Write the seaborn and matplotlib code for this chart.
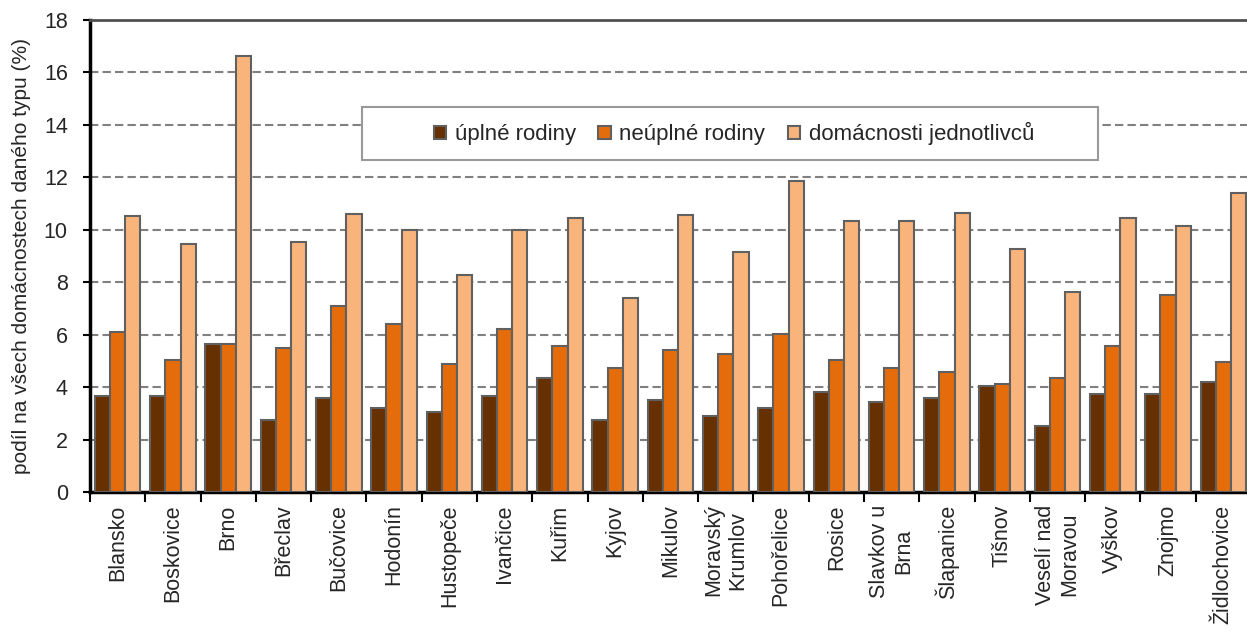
import matplotlib
matplotlib.use('Agg')
import matplotlib.pyplot as plt
import seaborn as sns
import pandas as pd
from matplotlib.patches import Rectangle

# podíl domácností podle typu v jednotlivých SO ORP
okresy = ['Blansko', 'Boskovice', 'Brno', 'Břeclav', 'Bučovice', 'Hodonín',
          'Hustopeče', 'Ivančice', 'Kuřim', 'Kyjov', 'Mikulov',
          'Moravský\nKrumlov', 'Pohořelice', 'Rosice', 'Slavkov u\nBrna',
          'Šlapanice', 'Tišnov', 'Veselí nad\nMoravou', 'Vyškov', 'Znojmo',
          'Židlochovice']
uplne = [3.66, 3.66, 5.65, 2.73, 3.59, 3.19, 3.05, 3.66, 4.35, 2.73, 3.51,
         2.89, 3.21, 3.81, 3.42, 3.59, 4.04, 2.52, 3.73, 3.73, 4.18]
neuplne = [6.12, 5.05, 5.65, 5.5, 7.09, 6.41, 4.88, 6.2, 5.57, 4.73, 5.42,
           5.26, 6.03, 5.05, 4.73, 4.57, 4.1, 4.36, 5.57, 7.5, 4.97]
jednotlivci = [10.51, 9.45, 16.62, 9.53, 10.6, 10.0, 8.26, 10.0, 10.45, 7.41,
               10.55, 9.14, 11.85, 10.32, 10.32, 10.63, 9.26, 7.62, 10.45,
               10.15, 11.39]
serie = ['úplné rodiny', 'neúplné rodiny', 'domácnosti jednotlivců']
barvy = ['#663000', '#E46C0A', '#F9B47C']

df = pd.DataFrame({'okres': okresy, serie[0]: uplne, serie[1]: neuplne,
                   serie[2]: jednotlivci})
df = df.melt(id_vars='okres', var_name='typ', value_name='podil')

sns.set_style('white')
plt.rcParams['font.family'] = ['Liberation Sans', 'DejaVu Sans']

fig = plt.figure(figsize=(12.47, 6.33), dpi=100)
ax = fig.add_axes([90 / 1247, 141 / 633, 1161 / 1247, 472 / 633])

sns.barplot(data=df, x='okres', y='podil', hue='typ', hue_order=serie,
            palette=barvy, saturation=1, width=0.825, edgecolor='#606060',
            linewidth=1.5, ax=ax, legend=False, zorder=3)

ax.set_xlim(-0.5, len(okresy) - 0.5)
ax.set_ylim(0, 18)
ax.set_yticks(range(0, 19, 2))
ax.yaxis.grid(True, linestyle=(0, (4, 2)), color='#808080', linewidth=1.5)
ax.xaxis.grid(False)
ax.set_axisbelow(True)

ax.set_xticks(range(len(okresy)))
ax.set_xticklabels(okresy, rotation=90, ma='center', fontsize=15.5)
ax.set_xticks([i - 0.5 for i in range(len(okresy) + 1)], minor=True)
ax.tick_params(axis='x', which='major', length=0, pad=9)
ax.tick_params(axis='x', which='minor', length=7, width=1.5, color='black',
               direction='out', bottom=True)
ax.tick_params(axis='y', length=5, width=1.5, color='black', direction='out',
               left=True, labelsize=15.5, pad=11)

ax.set_xlabel('')
ax.set_ylabel('podíl na všech domácnostech daného typu (%)', fontsize=15,
              labelpad=9)

for s in ['left', 'bottom']:
    ax.spines[s].set_color('black')
    ax.spines[s].set_linewidth(2.5)
ax.spines['top'].set_color('#505050')
ax.spines['top'].set_linewidth(2)
ax.spines['right'].set_visible(False)

# rámeček legendy
ax.add_patch(Rectangle((0.2343, 0.703), 0.634, 0.112, transform=ax.transAxes,
                       facecolor='white', edgecolor='#999999', linewidth=1.5,
                       zorder=4))
handles = [Rectangle((0, 0), 1, 1, facecolor=c, edgecolor='#606060',
                     linewidth=1.5) for c in barvy]
leg = ax.legend(handles, serie, ncol=3, frameon=False, loc='center',
                bbox_to_anchor=(0.5547, 0.7595), handlelength=0.55,
                handleheight=0.55, handletextpad=0.4, columnspacing=1.0,
                fontsize=16)
leg.set_zorder(5)

fig.savefig('out.png', dpi=100)
